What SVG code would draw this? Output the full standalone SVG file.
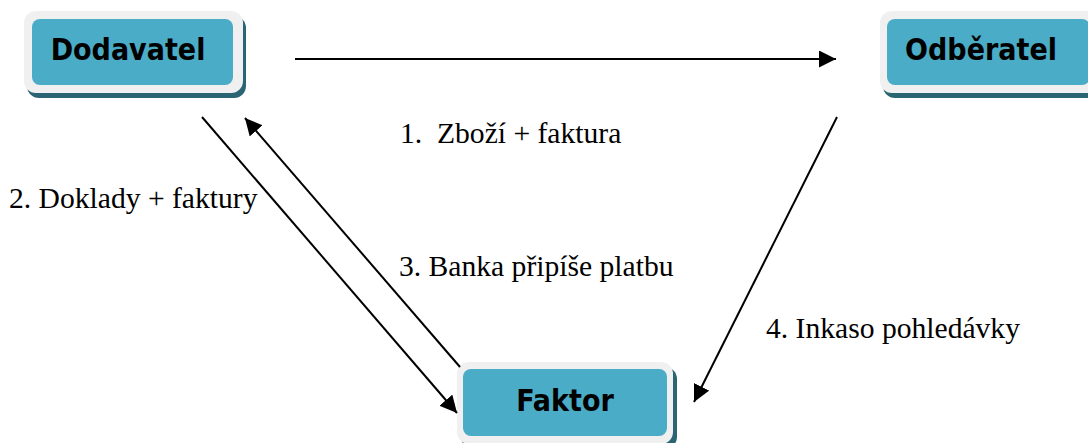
<svg xmlns="http://www.w3.org/2000/svg" width="1088" height="443" viewBox="0 0 1088 443">
  <style>
    .shadow { fill: #2b6574; }
    .frame { fill: #f0f0f0; }
    .face { fill: #4aacc6; }
    .title { font-family: "DejaVu Sans Condensed", "DejaVu Sans", sans-serif; font-weight: bold; font-size: 30px; fill: #000; text-anchor: middle; }
    .label { font-family: "Liberation Serif", "Times New Roman", serif; font-size: 29.6px; fill: #000; }
    .flow { stroke: #000; stroke-width: 2; fill: none; marker-end: url(#head); }
  </style>
  <defs>
    <marker id="head" markerUnits="userSpaceOnUse" markerWidth="20" markerHeight="20" refX="17" refY="8.5" orient="auto">
      <path d="M0,0 L17,8.5 L0,17 Z" fill="#000"/>
    </marker>
  </defs>
  <rect width="1088" height="443" fill="#fff"/>

  <g id="dodavatel">
    <rect class="shadow" x="27" y="16" width="219" height="82" rx="12"/>
    <rect class="frame" x="24" y="11" width="219" height="82" rx="12"/>
    <rect class="face" x="32" y="19" width="201" height="66" rx="8"/>
    <text class="title" x="128" y="60">Dodavatel</text>
  </g>

  <g id="odberatel">
    <rect class="shadow" x="883" y="16" width="219" height="82" rx="12"/>
    <rect class="frame" x="880" y="11" width="219" height="82" rx="12"/>
    <rect class="face" x="887" y="19" width="203" height="66" rx="8"/>
    <text class="title" x="981" y="60">Odběratel</text>
  </g>

  <g id="faktor">
    <rect class="shadow" x="461" y="367" width="216" height="82" rx="12"/>
    <rect class="frame" x="457" y="362" width="216" height="82" rx="12"/>
    <rect class="face" x="463" y="369" width="204" height="67" rx="8"/>
    <text class="title" x="565" y="411">Faktor</text>
  </g>

  <g id="connectors">
    <line class="flow" x1="295" y1="59" x2="836" y2="59"/>
    <line class="flow" x1="202" y1="117" x2="457" y2="413"/>
    <line class="flow" x1="460" y1="367" x2="245" y2="118"/>
    <line class="flow" x1="837" y1="117" x2="694" y2="402"/>
  </g>

  <g id="labels">
    <text class="label" x="400" y="143" xml:space="preserve">1.  Zboží + faktura</text>
    <text class="label" x="9" y="208">2. Doklady + faktury</text>
    <text class="label" x="399" y="276">3. Banka připíše platbu</text>
    <text class="label" x="766" y="338">4. Inkaso pohledávky</text>
  </g>
</svg>
